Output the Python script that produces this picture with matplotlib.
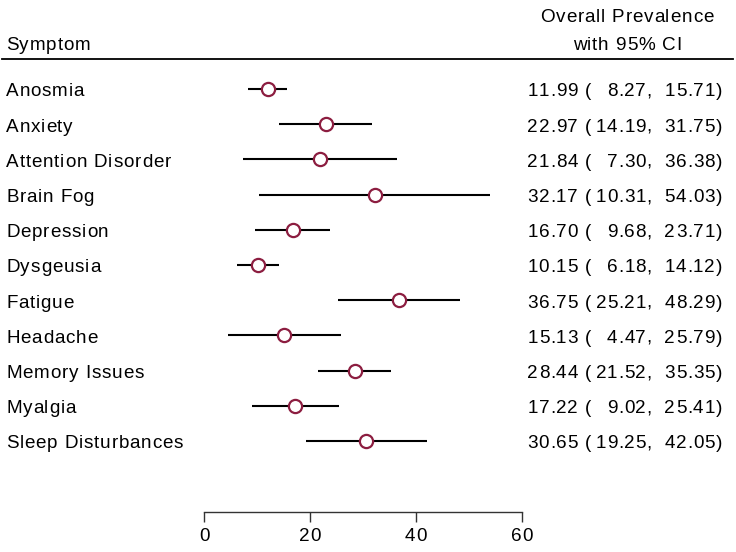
import matplotlib
matplotlib.use("Agg")
import matplotlib.pyplot as plt
from matplotlib.lines import Line2D
from matplotlib import font_manager, ft2font
import matplotlib.transforms as mtransforms

# data
symptoms = ['Anosmia', 'Anxiety', 'Attention Disorder', 'Brain Fog', 'Depression',
            'Dysgeusia', 'Fatigue', 'Headache', 'Memory Issues', 'Myalgia',
            'Sleep Disturbances']
prev = [11.99, 22.97, 21.84, 32.17, 16.70, 10.15, 36.75, 15.13, 28.44, 17.22, 30.65]
lower = [8.27, 14.19, 7.30, 10.31, 9.68, 6.18, 25.21, 4.47, 21.52, 9.02, 19.25]
upper = [15.71, 31.75, 36.38, 54.03, 23.71, 14.12, 48.29, 25.79, 35.35, 25.41, 42.05]
xticks = [0, 20, 40, 60]

W, H = 736, 552
fs = 13.6

# narrow Helvetica-like face with wide tracking, as in the Stata output
try:
    fpath = font_manager.findfont(font_manager.FontProperties(family='Liberation Sans Narrow'),
                                  fallback_to_default=False)
    track = 2.0
    fs = 14
except Exception:
    fpath = font_manager.findfont(font_manager.FontProperties(family='Liberation Sans'))
    track = 0.8
fprop = font_manager.FontProperties(fname=fpath, size=fs)
ftfont = ft2font.FT2Font(fpath)
ftfont.set_size(fs, 100)


def advance(ch):
    g = ftfont.load_char(ord(ch))
    return g.linearHoriAdvance / 65536.0


def spaced(fig, x, ybase, s, ha='left'):
    # x, ybase in pixels from the top-left corner of the image
    adv = [advance(c) for c in s]
    total = sum(adv) + track * (len(s) - 1)
    if ha == 'right':
        x = x - total
    elif ha == 'center':
        x = x - total / 2
    for c, a in zip(s, adv):
        if c != ' ':
            fig.text(x, H - ybase, c, fontproperties=fprop, ha='left', va='baseline',
                     transform=mtransforms.IdentityTransform())
        x += a + track


fig = plt.figure(figsize=(W / 100, H / 100), dpi=100)

# axes placed so that 0..60 spans the tick line of the reference
x0, x1 = 204, 522
ytop, ybot = 59, 512
ax = fig.add_axes([x0 / W, 1 - ybot / H, (x1 - x0) / W, (ybot - ytop) / H])
ax.set_xlim(0, 60)
row0, step = 89, 35.2
ax.set_ylim(1 + (ybot - row0) / step, 1 + (ytop - row0) / step)

rows = list(range(1, len(symptoms) + 1))
cranberry = '#8c1d40'
for r, lo, hi in zip(rows, lower, upper):
    ax.plot([lo, hi], [r, r], color='black', lw=1.5, solid_capstyle='butt', zorder=1)
ax.plot(prev, rows, 'o', ms=9.5, mfc='white', mec=cranberry, mew=1.6, zorder=2)

for s in ['top', 'right', 'left']:
    ax.spines[s].set_visible(False)
ax.spines['bottom'].set_color('#333333')
ax.spines['bottom'].set_linewidth(1.0)
ax.set_yticks([])
ax.set_xticks(xticks)
ax.set_xticklabels([])
ax.tick_params(axis='x', direction='out', length=7, width=1.0, color='#333333')

fig.canvas.draw()
for v in xticks:
    px = ax.transData.transform((v, 1))[0]
    spaced(fig, px, 541, str(v), ha='center')

for r, name, p, lo, hi in zip(rows, symptoms, prev, lower, upper):
    yb = H - ax.transData.transform((0, r))[1] + 7.5
    spaced(fig, 6, yb, name)
    spaced(fig, 591, yb, f'{p:.2f} (', ha='right')
    spaced(fig, 652, yb, f'{lo:.2f},', ha='right')
    spaced(fig, 722, yb, f'{hi:.2f})', ha='right')

# header
spaced(fig, 6, 50, 'Symptom')
spaced(fig, 627, 22, 'Overall Prevalence', ha='center')
spaced(fig, 627, 50, 'with 95% CI', ha='center')
fig.add_artist(Line2D([2 / W, 733 / W], [1 - 59 / H, 1 - 59 / H], color='black', lw=1.3))

fig.savefig('out.png', dpi=100, facecolor='white')
